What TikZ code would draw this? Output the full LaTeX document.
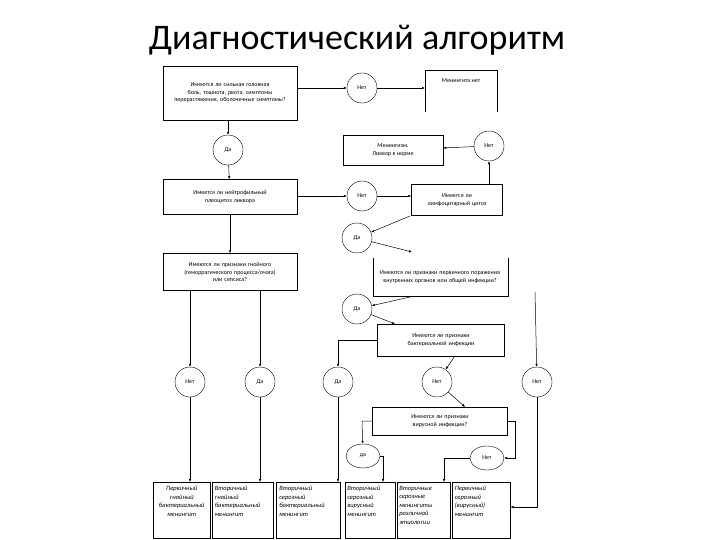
\documentclass[tikz,border=0pt]{standalone}
\usepackage{fontspec}
\setmainfont{Carlito}
\usetikzlibrary{arrows.meta,shapes.geometric}
\begin{document}
\begin{tikzpicture}[x=1pt,y=-1pt,
  box/.style={draw,line width=0.5pt,align=center,font=\fontsize{6}{7.5}\selectfont,inner sep=1pt},
  circ/.style={draw,circle,minimum size=30pt,inner sep=0pt,font=\fontsize{6}{7}\selectfont},
  ell/.style={draw,ellipse,minimum width=34pt,minimum height=24pt,inner sep=0pt,font=\fontsize{6}{7}\selectfont},
  arr/.style={-{Latex[length=3pt,width=2.5pt]},line width=0.5pt},
  ln/.style={line width=0.5pt}]
\useasboundingbox (0,0) rectangle (720,540);
\node[font=\fontsize{36}{40}\selectfont] (title) at (357,40) {Диагностический алгоритм};
% first level
\node[box,minimum width=134pt,minimum height=54pt,text width=128pt] (b1) at (230,93) {Имеются ли сильная головная боль, тошнота, рвота, симптомы перерастяжения, оболочечные симптомы?};
\node[circ] (n1) at (362,88) {Нет};
\node[box,minimum width=72pt,minimum height=20pt,draw=none,anchor=north] (mn) at (461,70) {Менингита нет};
\draw[ln] (425,112) -- (425,70) -- (497,70) -- (497,112);
\draw[arr] (b1.east |- n1) -- (n1);
\draw[arr] (n1) -- (425,88);
\node[circ] (d1) at (228,150) {Да};
\draw[arr] (228,120) -- (d1);
\node[box,minimum width=134pt,minimum height=35pt,text width=128pt] (b2) at (230,197) {Имеется ли нейтрофильный\\ плеоцитоз ликвора};
\draw[arr] (d1) -- (b2);
\node[circ] (n2) at (362,196) {Нет};
\draw[arr] (b2.east |- n2) -- (n2);
\node[box,minimum width=91pt,minimum height=31pt,text width=86pt] (b3) at (457,200) {Имеется ли\\ лимфоцитарный цитоз};
\draw[arr] (n2) -- (b3.west |- n2);
\node[circ] (n3) at (489,146) {Нет};
\draw[arr] (489,185) -- (n3);
\node[box,minimum width=100pt,minimum height=30pt] (mz) at (393,150) {Менингизм.\\ Ликвор в норме};
\draw[arr] (n3) -- (mz);
\node[circ] (d2) at (357,238) {Да};
\draw[arr] (410,216) -- (d2);
% pus
\node[box,minimum width=134pt,minimum height=37pt,text width=128pt] (b4) at (230,272) {Имеются ли признаки гнойного\\ (геморрагического процесса/очага)\\ или сепсиса?};
\draw[arr] (b2) -- (b4);
% B4 right
\node[box,draw=none,minimum width=135pt,minimum height=38pt,text width=130pt] (b5) at (440,277) {Имеются ли признаки первичного поражения внутренних органов или общей инфекции?};
\draw[ln] (373,258) -- (373,296) -- (508,296) -- (508,258);
\draw[arr] (d2) -- (412,252);
\node[circ] (d3) at (357,309) {Да};
\draw[arr] (410,297) -- (d3);
\node[box,minimum width=127pt,minimum height=32pt,text width=120pt] (b6) at (441,340) {Имеются ли признаки\\ бактериальной инфекции};
\draw[arr] (d3) -- (395,324);
\node[circ] (d4) at (338,382) {Да};
\draw[arr] (b6.west) -- (338,340) -- (d4);
\node[circ] (n4) at (437,382) {Нет};
\draw[arr] (455,356) -- (n4);
\node[circ] (n5) at (537,382) {Нет};
\draw[arr] (535,292) -- (n5);
\node[circ] (n6) at (190,382) {Нет};
\node[circ] (d5) at (260,382) {Да};
\draw[arr] (190,290) -- (n6);
\draw[arr] (260,290) -- (d5);
% viral
\node[box,minimum width=135pt,minimum height=28pt,text width=128pt] (b7) at (440,421) {Имеются ли признаки\\ вирусной инфекции?};
\draw[arr] (n4) -- (465,407);
\node[ell] (d6) at (363,456) {да};
\node[ell] (n7) at (487,458) {Нет};
\draw[arr] (b7.west) -- (362,421) -- (d6);
\draw[arr] (b7.east) -- (515,421) -- (515,458) -- (n7);
% bottom boxes
\tikzset{bb/.style={draw,line width=0.5pt,anchor=north west,minimum height=56pt,minimum width=#1,inner sep=0pt},
  bt/.style={anchor=north,text width=#1,align=left,inner sep=1pt,font=\fontsize{6.5}{8.5}\selectfont\itshape}}
\node[bb=57pt] (r1) at (153,482) {};
\node[bb=61pt] (r2) at (212,482) {};
\node[bb=64pt] (r3) at (276,482) {};
\node[bb=50pt] (r4) at (345,482) {};
\node[bb=53pt] (r5) at (397,482) {};
\node[bb=58pt] (r6) at (452,482) {};
\node[bt=52pt,align=center] at ([yshift=-3pt]r1.north) {Первичный гнойный бактериальный менингит};
\node[bt=56pt] at ([yshift=-3pt]r2.north) {Вторичный гнойный бактериальный менингит};
\node[bt=58pt] at ([yshift=-3pt]r3.north) {Вторичный серозный бактериальный менингит};
\node[bt=46pt] at ([yshift=-3pt]r4.north) {Вторичный серозный вирусный менингит};
\node[bt=49pt] at ([yshift=-3pt]r5.north) {Вторичные серозные менингиты различной этиологии};
\node[bt=53pt] at ([yshift=-3pt]r6.north) {Первичный серозный (вирусный) менингит};
\draw[arr] (n6) -- (190,482);
\draw[arr] (d5) -- (260,482);
\draw[arr] (d4) -- (338,482);
\draw[arr] (d6.east) -- (383,456) -- (383,482);
\draw[arr] (n7.west) -- (444,458) -- (444,482);
\draw[arr] (n5) -- (537,507) -- (r6.east |- 0,507);
\end{tikzpicture}
\end{document}
